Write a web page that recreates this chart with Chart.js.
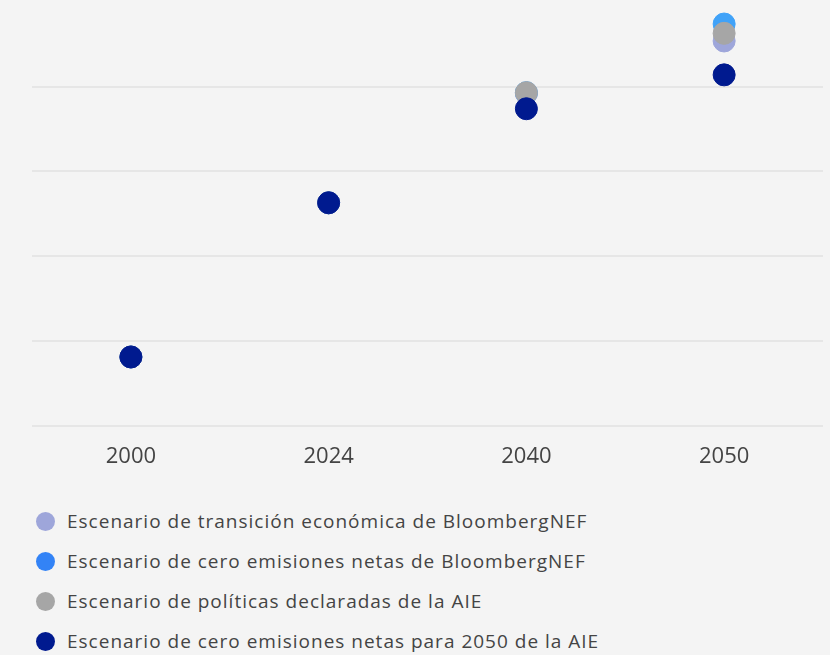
<!DOCTYPE html>
<html>
<head>
<meta charset="utf-8">
<script src="https://cdn.jsdelivr.net/npm/chart.js@4"></script>
<style>
  html, body { margin: 0; padding: 0; background: #f4f4f4; }
  body { width: 830px; height: 655px; overflow: hidden; font-family: "Open Sans", sans-serif; }
  #chart { display: block; }
  #legend { list-style: none; margin: 0; padding: 0; position: absolute; left: 36px; top: 501px; }
  #legend li { height: 40px; display: flex; align-items: center; font-size: 19px; letter-spacing: 1px; color: #444; white-space: nowrap; }
  #legend span { display: inline-block; width: 19px; height: 19px; border-radius: 50%; margin-right: 12px; }
</style>
</head>
<body>
<canvas id="chart" width="830" height="491"></canvas>
<ul id="legend"></ul>
<script>
// Données
const years = ['2000', '2024', '2040', '2050'];
const seriesLabels = [
    'Escenario de transición económica de BloombergNEF',
    'Escenario de cero emisiones netas de BloombergNEF',
    'Escenario de políticas declaradas de la AIE',
    'Escenario de cero emisiones netas para 2050 de la AIE'
];
const bnefEts = [0.81, 2.63, 3.92, 4.54];
const bnefNz = [0.81, 2.63, 3.93, 4.74];
const ieaSteps = [0.81, 2.63, 3.93, 4.63];
const ieaNze = [0.81, 2.63, 3.74, 4.14];

const pointColors = ['#9ea6da', '#40a2f8', '#a6a6a6', '#001a8f'];
const legendColors = ['#9ea6da', '#3383f6', '#a6a6a6', '#001a8f'];

function makeDataset(i, data) {
    return {
        label: seriesLabels[i],
        data: data,
        showLine: false,
        pointRadius: 11,
        pointHoverRadius: 11,
        pointBorderWidth: 1,
        backgroundColor: pointColors[i],
        borderColor: pointColors[i],
        order: 4 - i // le dernier au premier plan
    };
}

const ctx = document.getElementById('chart').getContext('2d');
const chart = new Chart(ctx, {
    type: 'line',
    data: {
        labels: years,
        datasets: [
            makeDataset(0, bnefEts),
            makeDataset(1, bnefNz),
            makeDataset(2, ieaSteps),
            makeDataset(3, ieaNze)
        ]
    },
    options: {
        responsive: false,
        animation: false,
        layout: { autoPadding: false, padding: { left: 32, right: 7, top: 2, bottom: 3 } },
        plugins: {
            legend: { display: false },
            tooltip: { enabled: false }
        },
        scales: {
            x: {
                offset: true,
                grid: { display: false, drawTicks: false },
                border: { display: false },
                ticks: { color: '#444', padding: 18, font: { family: 'Open Sans', size: 22 } }
            },
            y: {
                min: 0,
                max: 5,
                afterFit: (scale) => { scale.width = 0; },
                ticks: { display: false, stepSize: 1 },
                border: { display: false },
                grid: {
                    drawTicks: false,
                    lineWidth: 2,
                    color: (c) => (c.tick && c.tick.value === 5) ? 'rgba(0,0,0,0)' : '#e6e6e6'
                }
            }
        }
    }
});

// Légende HTML
const legend = document.getElementById('legend');
seriesLabels.forEach((label, i) => {
    const li = document.createElement('li');
    const dot = document.createElement('span');
    dot.style.background = legendColors[i];
    li.appendChild(dot);
    li.appendChild(document.createTextNode(label));
    legend.appendChild(li);
});
</script>
</body>
</html>
